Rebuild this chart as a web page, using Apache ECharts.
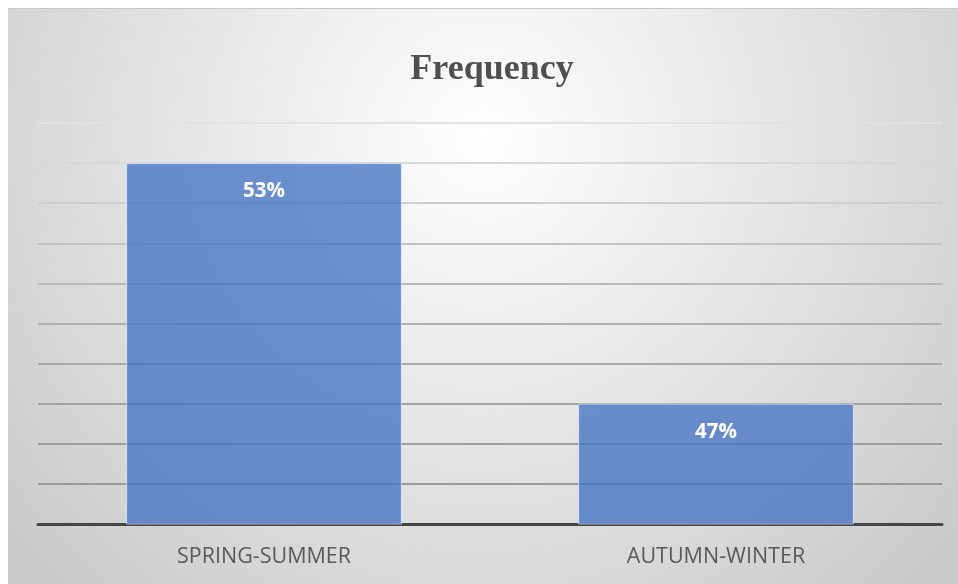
<!DOCTYPE html>
<html>
<head>
<meta charset="utf-8">
<script src="https://cdn.jsdelivr.net/npm/echarts@6/dist/echarts.min.js"></script>
<style>
    html, body { margin: 0; padding: 0; background: #ffffff; }
    #frequency_bar {
        position: absolute;
        left: 8px;
        top: 9px;
        width: 950px;
        height: 575px;
        box-shadow: 0 -1px 0 #c8c8c8;
    }
</style>
</head>
<body>
<div id="frequency_bar"></div>
<script>
// 数据
const categories = ['SPRING-SUMMER', 'AUTUMN-WINTER'];
const frequencyValues = [53, 47];
const axisMin = 44;
const axisMax = 54;

// 网格线颜色，从下往上逐渐变浅
const gridLineColors = ['#8c8c8c', '#9a9a9a', '#9e9e9e', '#a3a3a3', '#a9a9a9', '#b0b0b0',
    '#b8b8b8', '#c2c2c2', '#cdcdcd', '#d8d8d8', '#e2e2e2'];

const myChartBar = echarts.init(document.getElementById('frequency_bar'));

const options = {
    backgroundColor: {
        type: 'radial',
        x: 0.5,
        y: 0.22,
        r: 1.1,
        colorStops: [
            { offset: 0, color: '#ffffff' },
            { offset: 1, color: '#c9c9c9' }
        ]
    },
    title: {
        text: 'Frequency',
        left: 479,
        top: 38,
        textAlign: 'center',
        textStyle: {
            fontFamily: 'Liberation Serif',
            fontSize: 36,
            fontWeight: 'bold',
            color: '#505050'
        }
    },
    grid: {
        left: 30,
        right: 16,
        top: 114,
        bottom: 60
    },
    xAxis: {
        type: 'category',
        data: categories,
        axisTick: { show: false },
        axisLine: {
            lineStyle: { color: '#454545', width: 3 }
        },
        axisLabel: {
            margin: 22,
            fontFamily: 'Open Sans',
            fontSize: 21.5,
            color: '#595959'
        }
    },
    yAxis: {
        type: 'value',
        min: axisMin,
        max: axisMax,
        interval: 1,
        axisLabel: { show: false },
        axisLine: { show: false },
        axisTick: { show: false },
        splitLine: {
            lineStyle: { color: gridLineColors, width: 2 }
        }
    },
    series: [
        {
            name: 'Frequency',
            type: 'bar',
            data: frequencyValues,
            barWidth: '61%',
            itemStyle: {
                color: 'rgba(68,114,196,0.78)',
                borderColor: 'rgba(255,255,255,0.6)',
                borderWidth: 1
            },
            label: {
                show: true,
                position: 'insideTop',
                distance: 18,
                formatter: '{c}%',
                fontFamily: 'Open Sans',
                fontSize: 20.5,
                fontWeight: 'bold',
                color: '#ffffff'
            }
        }
    ]
};

myChartBar.setOption(options);
</script>
</body>
</html>
